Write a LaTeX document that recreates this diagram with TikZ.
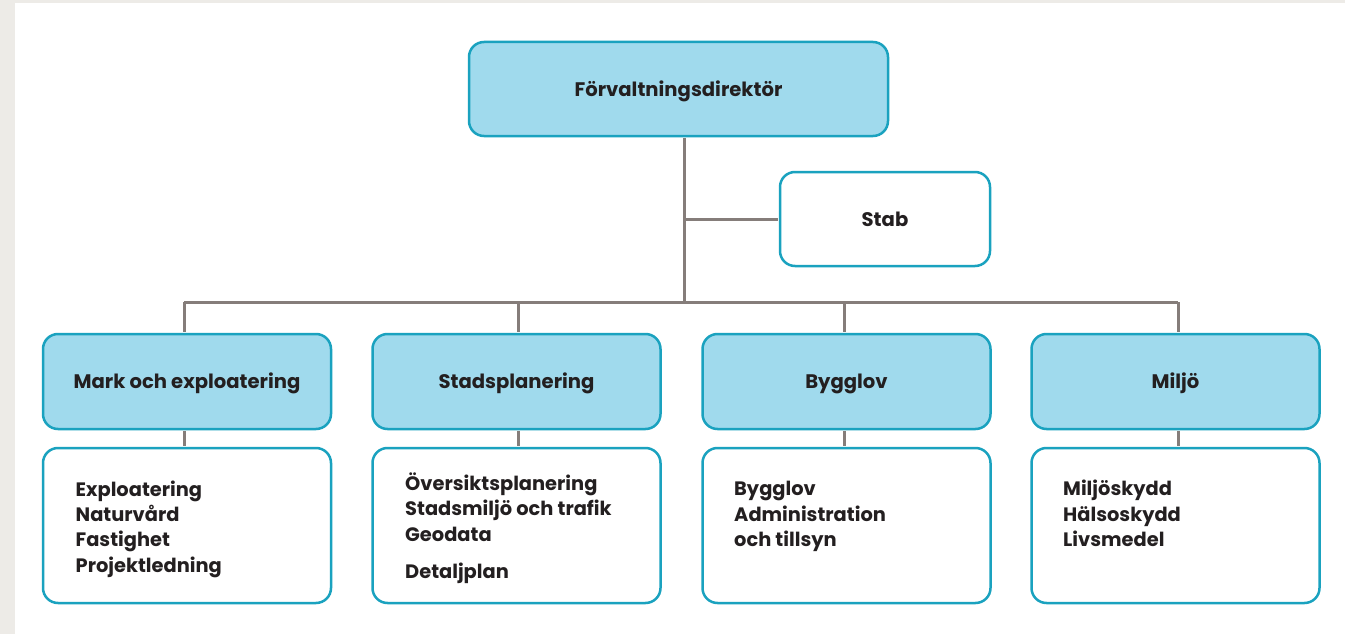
\documentclass[tikz,border=0pt]{standalone}
\usepackage{fontspec}
\setmainfont{Poppins}
\definecolor{bggray}{HTML}{EDEBE7}
\definecolor{headfill}{HTML}{A0DAED}
\definecolor{bordc}{HTML}{1AA2BF}
\definecolor{linec}{HTML}{857D7A}
\definecolor{txt}{HTML}{231F20}
\tikzset{
  box/.style={draw=bordc, line width=2.5pt, rounded corners=15pt, text=txt, inner sep=0pt,
    font=\bfseries\fontsize{19.6}{25}\selectfont},
  head/.style={box, fill=headfill, minimum width=288pt, minimum height=95pt, text height=14pt, text depth=0pt},
  sub/.style={box, fill=white, minimum width=288pt, minimum height=155pt},
  lst/.style={anchor=base west, align=left, text=txt, inner sep=0pt,
    font=\bfseries\fontsize{19.4}{25.3}\selectfont},
  conn/.style={draw=linec, line width=3pt, shorten <=1.2pt, shorten >=1.2pt}
}
\begin{document}
\begin{tikzpicture}[x=1pt,y=-1pt]
\useasboundingbox (0,0) rectangle (1345,634);
\fill[bggray] (0,0) rectangle (1345,634);
\fill[white] (15,3.5) rectangle (1345,634);
% bus coordinates
\coordinate (j) at (684.5,302);
\coordinate (b1) at (184,302);
\coordinate (b2) at (518,302);
\coordinate (b3) at (844.5,302);
\coordinate (b4) at (1178,302);
% nodes
\node[head, minimum width=419pt, minimum height=94pt] (top) at (678.5,89) {Förvaltningsdirektör};
\node[box, fill=white, minimum width=210pt, minimum height=94pt, text height=14pt, text depth=0pt] (stab) at (885,219) {Stab};
\node[head] (l2a) at (187,381.5) {Mark och exploatering};
\node[head] (l2b) at (516.5,381.5) {Stadsplanering};
\node[head] (l2c) at (846.5,381.5) {Bygglov};
\node[head] (l2d) at (1175.5,381.5) {Miljö};
\node[sub] (l3a) at (187,525.5) {};
\node[sub] (l3b) at (516.5,525.5) {};
\node[sub] (l3c) at (846.5,525.5) {};
\node[sub] (l3d) at (1175.5,525.5) {};
\node[lst] (t3a) at (75.5,572) {Exploatering\\Naturvård\\Fastighet\\Projektledning};
\node[lst] (t3b) at (405,578) {Översiktsplanering\\Stadsmiljö och trafik\\Geodata\\[11.7pt]Detaljplan};
\node[lst] (t3c) at (734,546.5) {Bygglov\\Administration\\och tillsyn};
\node[lst] (t3d) at (1063,546.5) {Miljöskydd\\Hälsoskydd\\Livsmedel};
% connectors
\draw[conn] (top.south -| j) -- (j);
\draw[conn] (stab.west) -- (stab.west -| j);
\draw[conn, shorten <=0pt, shorten >=0pt] (b1) -- (b4);
\draw[conn, shorten <=0pt] (b1) -- (b1 |- l2a.north);
\draw[conn, shorten <=0pt] (b2) -- (b2 |- l2b.north);
\draw[conn, shorten <=0pt] (b3) -- (b3 |- l2c.north);
\draw[conn, shorten <=0pt] (b4) -- (b4 |- l2d.north);
\draw[conn] (b1 |- l2a.south) -- (b1 |- l3a.north);
\draw[conn] (b2 |- l2b.south) -- (b2 |- l3b.north);
\draw[conn] (b3 |- l2c.south) -- (b3 |- l3c.north);
\draw[conn] (b4 |- l2d.south) -- (b4 |- l3d.north);
\end{tikzpicture}
\end{document}
